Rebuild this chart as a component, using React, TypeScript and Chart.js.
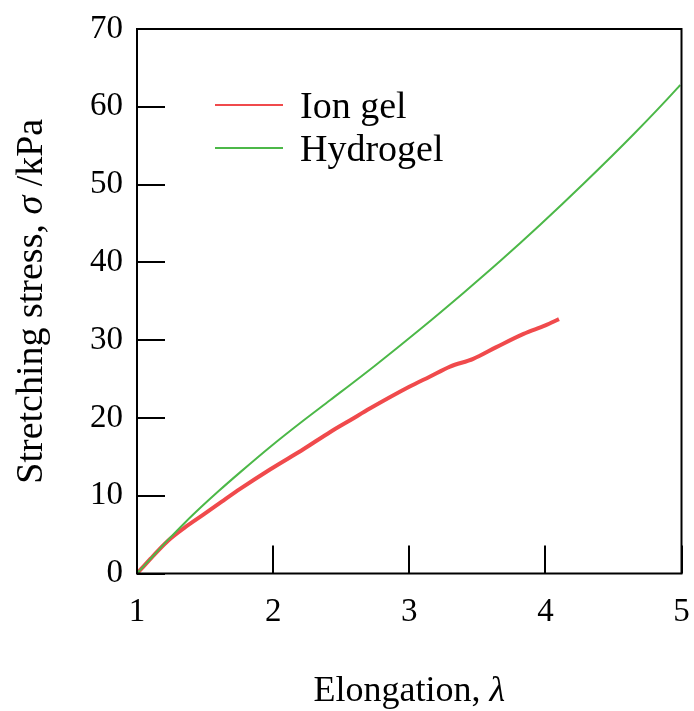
import React, { useEffect, useRef } from "react";
import { Chart, registerables } from "chart.js";

Chart.register(...registerables);

const ionGelX = [1.0, 1.05, 1.1, 1.15, 1.23, 1.35, 1.49, 1.62, 1.76, 1.98, 2.225, 2.42, 2.566, 2.71, 3.0, 3.15, 3.3, 3.47, 3.64, 3.84, 4.0, 4.1];
const ionGelY = [0, 0.95, 1.9, 2.85, 4.25, 5.9, 7.6, 9.2, 10.9, 13.4, 16.0, 18.2, 19.7, 21.2, 24.0, 25.3, 26.6, 27.6, 29.1, 30.8, 31.9, 32.7];

const hydrogelX = [1.0, 1.05, 1.1, 1.15, 1.23, 1.35, 1.475, 1.6, 1.757, 1.98, 2.225, 2.42, 2.75, 3.08, 3.4, 3.67, 3.96, 4.28, 4.65, 4.97, 4.99];
const hydrogelY = [0, 0.95, 1.9, 2.85, 4.35, 6.5, 8.6, 10.6, 13.0, 16.3, 19.7, 22.3, 26.75, 31.4, 36.1, 40.2, 44.8, 50.1, 56.5, 62.4, 62.8];

const xTicks = [1, 2, 3, 4, 5];
const yTicks = [0, 10, 20, 30, 40, 50, 60, 70];

const seriesNames = ["Ion gel", "Hydrogel"];
const seriesColors = ["#f04a4c", "#4cb848"];

const FONT = "'Liberation Serif', 'Times New Roman', serif";

const decorPlugin = {
  id: "decor",
  afterDraw(chart: any) {
    const { ctx, chartArea } = chart;
    const { left, right, top, bottom } = chartArea;
    const xs = chart.scales.x;
    const ys = chart.scales.y;
    ctx.save();
    // box
    ctx.strokeStyle = "#000";
    ctx.lineWidth = 2;
    ctx.strokeRect(left, top, right - left, bottom - top);
    // inward ticks
    const tl = 28;
    ctx.beginPath();
    xTicks.forEach((v) => {
      const px = Math.round(xs.getPixelForValue(v));
      ctx.moveTo(px, bottom);
      ctx.lineTo(px, bottom - tl);
    });
    yTicks.forEach((v) => {
      const py = Math.round(ys.getPixelForValue(v));
      ctx.moveTo(left, py);
      ctx.lineTo(left + tl, py);
    });
    ctx.stroke();

    // legend
    const legFont = 38;
    ctx.font = `${legFont}px ${FONT}`;
    ctx.textAlign = "left";
    ctx.textBaseline = "alphabetic";
    const legY = [105, 148];
    seriesNames.forEach((name, i) => {
      ctx.strokeStyle = seriesColors[i];
      ctx.lineWidth = 2;
      ctx.beginPath();
      ctx.moveTo(215, legY[i]);
      ctx.lineTo(283, legY[i]);
      ctx.stroke();
      ctx.fillStyle = "#000";
      ctx.fillText(name, 300, legY[i] + (legFont * 0.662) / 2);
    });

    // titles
    const drawParts = (parts: [string, boolean][], size: number, cx: number, baseline: number) => {
      const normal = `${size}px ${FONT}`;
      const italic = `italic ${size}px ${FONT}`;
      let total = 0;
      parts.forEach(([t, it]) => {
        ctx.font = it ? italic : normal;
        total += ctx.measureText(t).width;
      });
      let x = cx - total / 2;
      parts.forEach(([t, it]) => {
        ctx.font = it ? italic : normal;
        ctx.fillText(t, x, baseline);
        x += ctx.measureText(t).width;
      });
    };
    ctx.fillStyle = "#000";
    drawParts([["Elongation, ", false], ["λ", true]], 36, (left + right) / 2, 701);
    ctx.save();
    ctx.translate(42, (top + bottom) / 2);
    ctx.rotate(-Math.PI / 2);
    drawParts([["Stretching stress, ", false], ["σ", true], [" /kPa", false]], 38, 0, 0);
    ctx.restore();
    ctx.restore();
  },
};

export default function App() {
  const ref = useRef<HTMLCanvasElement | null>(null);
  useEffect(() => {
    document.body.style.margin = "0";
    const canvas = ref.current!;
    const chart = new Chart(canvas, {
      type: "scatter",
      data: {
        datasets: [
          {
            label: seriesNames[1],
            data: hydrogelX.map((x, i) => ({ x, y: hydrogelY[i] })),
            showLine: true,
            borderColor: seriesColors[1],
            borderWidth: 2,
            pointRadius: 0,
            cubicInterpolationMode: "monotone",
          },
          {
            label: seriesNames[0],
            data: ionGelX.map((x, i) => ({ x, y: ionGelY[i] })),
            showLine: true,
            borderColor: seriesColors[0],
            borderWidth: 4,
            pointRadius: 0,
            cubicInterpolationMode: "monotone",
          },
        ],
      },
      options: {
        animation: false,
        responsive: false,
        layout: { padding: { top: 29, right: 12.5, left: 0, bottom: 0 } },
        plugins: { legend: { display: false }, tooltip: { enabled: false } },
        scales: {
          x: {
            type: "linear",
            min: 1,
            max: 5,
            afterBuildTicks: (s: any) => {
              s.ticks = xTicks.map((v) => ({ value: v }));
            },
            afterFit: (s: any) => {
              s.height = 137.5;
              s.paddingLeft = 0;
              s.paddingRight = 0;
            },
            grid: { display: false, drawTicks: false },
            border: { display: false },
            ticks: {
              padding: 19,
              color: "#000",
              font: { family: FONT, size: 33 },
              maxRotation: 0,
            },
          },
          y: {
            type: "linear",
            min: 0,
            max: 70,
            afterBuildTicks: (s: any) => {
              s.ticks = yTicks.map((v) => ({ value: v }));
            },
            afterFit: (s: any) => {
              s.width = 137;
              s.paddingTop = 0;
              s.paddingBottom = 0;
            },
            grid: { display: false, drawTicks: false },
            border: { display: false },
            ticks: {
              padding: 14,
              color: "#000",
              font: { family: FONT, size: 33 },
            },
          },
        },
      },
      plugins: [decorPlugin],
    });
    return () => chart.destroy();
  }, []);
  return (
    <div style={{ width: 694, height: 711, background: "#fff" }}>
      <canvas ref={ref} width={694} height={711} style={{ display: "block" }} />
    </div>
  );
}
